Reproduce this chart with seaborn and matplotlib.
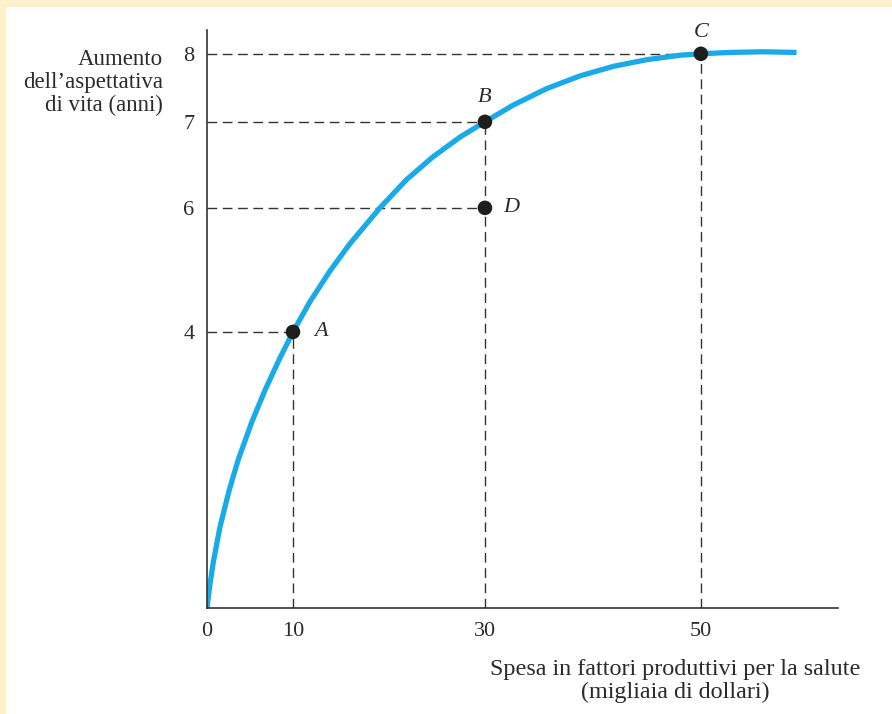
import numpy as np
import pandas as pd
import seaborn as sns
import matplotlib.pyplot as plt
from matplotlib.patches import Rectangle

# Curve (spesa, aumento aspettativa)
curve_x = [0, 0.29, 0.733, 1.512, 2.558, 3.64, 5.198, 6.744, 8.488, 9.651, 10,
           11.77, 13.85, 15.94, 19.06, 21.84, 24.61, 27.4, 30,
           32.62, 35.71, 38.8, 41.88, 44.97, 48.06, 50, 52.69, 55.77, 58.86]
curve_y = [0, 0.29, 0.665, 1.174, 1.696, 2.152, 2.69, 3.155, 3.623, 3.913, 4,
           4.487, 4.982, 5.423, 6.0, 6.329, 6.595, 6.822, 7,
           7.246, 7.488, 7.675, 7.815, 7.913, 7.979, 8, 8.02, 8.03, 8.02]

# Labelled points
point_names = ["A", "B", "C", "D"]
point_x = [10, 30, 50, 30]
point_y = [4, 7, 8, 6]

x_ticks = [0, 10, 30, 50]
y_ticks = [4, 6, 7, 8]

# The drawing is not to scale: axis positions of the tick values
x_knots = [0, 10, 30, 50, 70]
x_pos = [0, 86, 278, 494, 710]
y_knots = [0, 4, 6, 7, 8, 10]
y_pos = [0, 276, 400, 486, 554, 690]


def x_fwd(v):
    return np.interp(v, x_knots, x_pos)


def x_inv(v):
    return np.interp(v, x_pos, x_knots)


def y_fwd(v):
    return np.interp(v, y_knots, y_pos)


def y_inv(v):
    return np.interp(v, y_pos, y_knots)


sns.set_style("white")
plt.rcParams['font.family'] = ['Liberation Serif', 'DejaVu Serif']

fig = plt.figure(figsize=(8.92, 7.14), dpi=100)
fig.patch.set_facecolor("#fdf1c9")
fig.patches.append(Rectangle((6 / 892, 0), 1, 1 - 7 / 714, transform=fig.transFigure,
                             facecolor="white", edgecolor="none", zorder=-5))

ax = fig.add_axes([207 / 892, 106 / 714, 631 / 892, 578 / 714])
ax.set_facecolor("none")
ax.set_zorder(2)
ax.set_xscale("function", functions=(x_fwd, x_inv))
ax.set_yscale("function", functions=(y_fwd, y_inv))

dark = "#2b2b2b"
dash = dict(color="#333333", lw=1.0, dashes=(7, 4), zorder=1)

# Dashed guide lines
for px, py, name in zip(point_x, point_y, point_names):
    ax.plot([0, px], [py, py], **dash)
    if name != "D":
        ax.plot([px, px], [0, py], **dash)

df = pd.DataFrame({"x": curve_x, "y": curve_y})
sns.lineplot(data=df, x="x", y="y", ax=ax, color="#1aaae8", lw=3.8, sort=False,
             zorder=2, solid_joinstyle="round", solid_capstyle="butt")

pts = pd.DataFrame({"x": point_x, "y": point_y, "name": point_names})
sns.scatterplot(data=pts, x="x", y="y", ax=ax, color="#1e1e1e", s=110,
                edgecolor="none", zorder=3)

offsets = {"A": (15, 0, "left", "center"), "B": (0, 17.5, "center", "center"),
           "C": (0, 15.3, "center", "center"), "D": (13, 0, "left", "center")}
for px, py, name in zip(point_x, point_y, point_names):
    dx, dy, ha, va = offsets[name]
    ax.annotate(name, (px, py), xytext=(dx, dy), textcoords="offset points",
                ha=ha, va=va, fontsize=16, style="italic", color=dark)

ax.set_xlim(0, 62.7)
ax.set_ylim(0, 8.35)
ax.set_xticks(x_ticks)
ax.set_yticks(y_ticks)
ax.set_xticklabels([str(t) for t in x_ticks])
ax.set_yticklabels([str(t) for t in y_ticks])
ax.tick_params(axis="both", length=0, labelsize=16, colors=dark)
ax.tick_params(axis="x", pad=10)
ax.tick_params(axis="y", pad=9)
ax.set_xlabel("")
ax.set_ylabel("")

sns.despine(ax=ax)
for s in ("left", "bottom"):
    ax.spines[s].set_color("#333333")
    ax.spines[s].set_linewidth(1.2)

fig.text(163 / 892, 1 - 49 / 714, "Aumento\ndell\u2019aspettativa\ndi vita (anni)",
         ha="right", va="top", fontsize=16.5, color=dark, linespacing=1.12)
fig.text(675 / 892, 1 - 659 / 714, "Spesa in fattori produttivi per la salute\n(migliaia di dollari)",
         ha="center", va="top", fontsize=17.4, color=dark, linespacing=1.1,
         multialignment="center")

fig.savefig("out.png", dpi=100, facecolor=fig.get_facecolor())
